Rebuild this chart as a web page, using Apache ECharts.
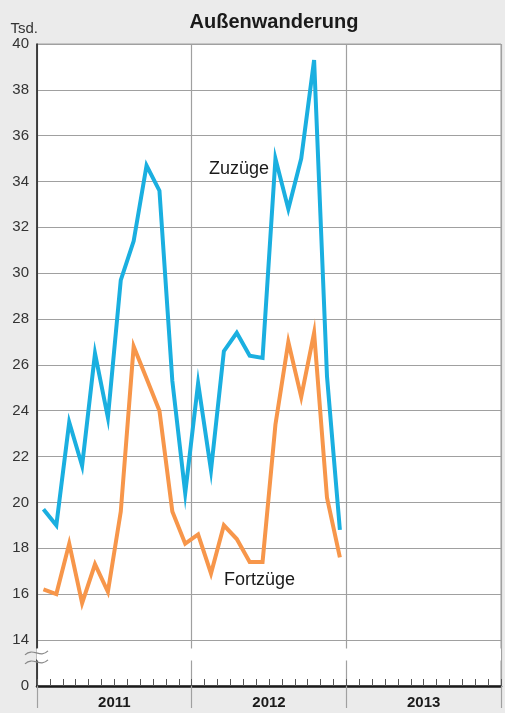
<!DOCTYPE html>
<html>
<head>
<meta charset="utf-8">
<script src="https://cdn.jsdelivr.net/npm/echarts@6/dist/echarts.min.js"></script>
<style>
html,body{margin:0;padding:0;background:#ebebeb;}
#chart{width:505px;height:713px;}
</style>
</head>
<body>
<div id="chart"></div>
<script>
var years = ['2011', '2012', '2013'];
var monthNames = ['Jan','Feb','Mär','Apr','Mai','Jun','Jul','Aug','Sep','Okt','Nov','Dez'];
var months = [];
years.forEach(function (y) { monthNames.forEach(function (m) { months.push(m + ' ' + y); }); });

var zuzuege = [19.7, 19.0, 23.5, 21.6, 26.5, 23.7, 29.7, 31.4, 34.7, 33.6, 25.3, 20.4,
               25.2, 21.4, 26.6, 27.4, 26.4, 26.3, 35.0, 32.8, 35.0, 39.3, 25.5, 18.8];
var fortzuege = [16.2, 16.0, 18.2, 15.6, 17.3, 16.1, 19.6, 26.8, 25.4, 24.0, 19.6, 18.2,
                 18.6, 16.9, 19.0, 18.4, 17.4, 17.4, 23.4, 27.0, 24.6, 27.4, 20.2, 17.6];
var seriesNames = ['Zuzüge', 'Fortzüge'];
var yTicks = [0, 14, 16, 18, 20, 22, 24, 26, 28, 30, 32, 34, 36, 38, 40];
var yBreak = {start: 1.13, end: 13.65};

var FONT = '"Liberation Sans", Arial, Helvetica, sans-serif';
var GRID_GRAY = '#a0a0a0';
var chart = echarts.init(document.getElementById('chart'), null, {renderer: 'canvas'});

var gridRect = {left: 37, right: 4, top: 44, bottom: 27};

function nameMark(idx, values, label) {
  return {
    symbol: 'circle', symbolSize: 1, silent: true,
    itemStyle: {color: 'transparent'},
    data: [{coord: [months[idx], values[idx]], label: label}]
  };
}

var option = {
  backgroundColor: '#ebebeb',
  animation: false,
  title: {
    text: 'Außenwanderung',
    left: 269, top: 7, textAlign: 'center',
    textStyle: {fontFamily: FONT, fontSize: 20, fontWeight: 'bold', color: '#1a1a1a'}
  },
  grid: [
    Object.assign({show: true, backgroundColor: '#fff', borderColor: GRID_GRAY, borderWidth: 1}, gridRect),
    Object.assign({show: false}, gridRect)
  ],
  xAxis: [
    {
      type: 'category', gridIndex: 0, data: months, boundaryGap: true,
      axisLine: {show: true, onZero: false, lineStyle: {color: '#1a1a1a', width: 2.5}},
      axisTick: {show: true, inside: true, length: 7, interval: 0, lineStyle: {color: '#555', width: 1}},
      axisLabel: {show: false},
      splitLine: {show: true, interval: function (i) { return i % 12 === 0; }, lineStyle: {color: GRID_GRAY, width: 1.2}}
    },
    {
      type: 'category', gridIndex: 1, data: years, boundaryGap: true,
      axisLine: {show: false},
      axisTick: {show: true, inside: false, length: 22, lineStyle: {color: GRID_GRAY, width: 1.2}},
      axisLabel: {show: true, margin: 9, fontFamily: FONT, fontSize: 15, fontWeight: 'bold', color: '#1a1a1a'},
      splitLine: {show: false}
    }
  ],
  yAxis: [
    {
      type: 'value', gridIndex: 0, min: 0, max: 40, interval: 2,
      breaks: [{start: yBreak.start, end: yBreak.end, gap: '1.9%'}],
      breakArea: {show: true, itemStyle: {color: '#fff', borderColor: '#fff', borderWidth: 0, opacity: 1}, zigzagAmplitude: 0, expandOnClick: false},
      name: 'Tsd.', nameLocation: 'end', nameGap: 8,
      nameTextStyle: {fontFamily: FONT, fontSize: 15, color: '#333', align: 'right', padding: [0, -1, 0, 0]},
      axisLine: {show: true, lineStyle: {color: '#1a1a1a', width: 1.5}},
      axisTick: {show: false, customValues: yTicks},
      axisLabel: {
        customValues: yTicks,
        margin: 8, fontFamily: FONT, fontSize: 15, color: '#333', showMinLabel: true,
        formatter: function (v) { return yTicks.indexOf(v) >= 0 ? String(v) : ''; }
      },
      splitLine: {show: true, lineStyle: {color: GRID_GRAY, width: 1.2}}
    },
    {type: 'value', gridIndex: 1, show: false, min: 0, max: 40}
  ],
  series: [
    {
      name: seriesNames[0], type: 'line', xAxisIndex: 0, yAxisIndex: 0,
      data: zuzuege, symbol: 'none', lineStyle: {color: '#1aafe0', width: 4, join: 'miter'},
      z: 3,
      markPoint: nameMark(18, zuzuege, {show: true, position: 'left', distance: 6, offset: [0, 10], formatter: seriesNames[0], fontFamily: FONT, fontSize: 18, color: '#1a1a1a'})
    },
    {
      name: seriesNames[1], type: 'line', xAxisIndex: 0, yAxisIndex: 0,
      data: fortzuege, symbol: 'none', lineStyle: {color: '#f7964a', width: 4, join: 'miter'},
      z: 3,
      markPoint: nameMark(17, fortzuege, {show: true, position: 'bottom', distance: 9, offset: [-3, 0], formatter: seriesNames[1], fontFamily: FONT, fontSize: 18, color: '#1a1a1a'})
    }
  ]
};
chart.setOption(option);

// axis break marks on the left axis
var ya = chart.convertToPixel({yAxisIndex: 0}, yBreak.end);
var xA = chart.convertToPixel({xAxisIndex: 0}, months[0]) - 6.45;
function wave(y) {
  return {
    type: 'bezierCurve', z: 100,
    shape: {x1: xA - 12, y1: y + 2, x2: xA + 11, y2: y - 2, cpx1: xA - 4, cpy1: y - 6, cpx2: xA + 3, cpy2: y + 6},
    style: {stroke: '#888', lineWidth: 1.2, fill: null}
  };
}
if (isFinite(ya) && isFinite(xA)) {
  chart.setOption({graphic: [wave(ya + 5), wave(ya + 14)]});
}
</script>
</body>
</html>
